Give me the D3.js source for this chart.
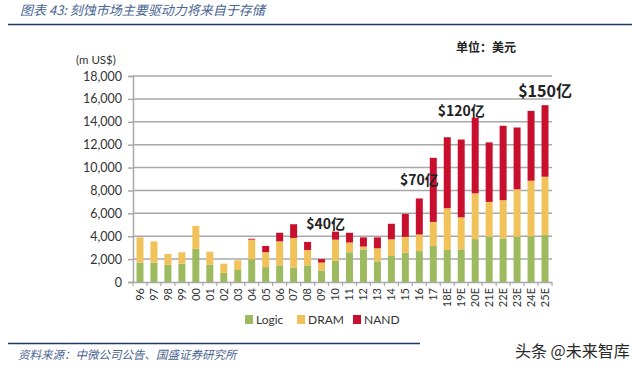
<!DOCTYPE html>
<html>
<head>
<meta charset="utf-8">
<script src="https://cdn.jsdelivr.net/npm/d3@7"></script>
<style>
	body { margin: 0; background: #fff; }
	svg { display: block; font-family: Lato, "Noto Sans", sans-serif; }
	.cjk { font-family: "Noto Sans CJK SC", sans-serif; }
</style>
</head>
<body>
<div id="chart"></div>
<script>
const years = ['96', '97', '98', '99', '00', '01', '02', '03', '04', '05', '06', '07', '08', '09', '10',
	'11', '12', '13', '14', '15', '16', '17', '18E', '19E', '20E', '21E', '22E', '23E', '24E', '25E'];
const logic = [1700, 1700, 1500, 1600, 2900, 1500, 800, 1050, 2000, 1300, 1450, 1250, 1450, 1000, 1850,
	2600, 2850, 1800, 2270, 2550, 2700, 3150, 2800, 2850, 3750, 3950, 3800, 3950, 4000, 4100];
const dram = [2200, 1850, 950, 1000, 2000, 1150, 800, 850, 1700, 1300, 2100, 2600, 1350, 700, 1850,
	850, 250, 1150, 1460, 1400, 1450, 2100, 3650, 2800, 4000, 3050, 3350, 4150, 4850, 5100];
const nand = [0, 0, 0, 0, 0, 0, 0, 0, 80, 550, 750, 1200, 700, 300, 700,
	850, 800, 950, 1360, 2000, 3150, 5600, 6200, 6800, 6600, 5200, 6500, 5400, 6100, 6250];
const yTicks = [0, 2000, 4000, 6000, 8000, 10000, 12000, 14000, 16000, 18000];
const seriesNames = ['Logic', 'DRAM', 'NAND'];
const callouts = [
	{label: '$40亿', at: '09', value: 4600},
	{label: '$70亿', at: '16', value: 8450},
	{label: '$120亿', at: '19E', value: 14500},
	{label: '$150亿', at: '25E', value: 16150}
];

const width = 640, height = 370;
const colors = {Logic: '#9dbb5e', DRAM: '#f1c25a', NAND: '#c8102e'};

const rows = years.map((y, i) => ({year: y, Logic: logic[i], DRAM: dram[i], NAND: nand[i]}));
const stacked = d3.stack().keys(seriesNames)(rows);

const svg = d3.select('#chart').append('svg')
	.attr('width', width)
	.attr('height', height);

const x = d3.scaleBand()
	.domain(years)
	.range([133, 552])
	.paddingInner(0.5)
	.paddingOuter(0.25);

const y = d3.scaleLinear()
	.domain([0, 18000])
	.range([282, 76]);

// header
svg.append('text')
	.attr('class', 'cjk')
	.attr('x', 20)
	.attr('y', 15)
	.attr('font-size', 13)
	.attr('font-style', 'italic')
	.attr('fill', '#4a6591')
	.text('图表 43:  刻蚀市场主要驱动力将来自于存储');

svg.append('line')
	.attr('x1', 8).attr('x2', 632)
	.attr('y1', 24.5).attr('y2', 24.5)
	.attr('stroke', '#1f3a68')
	.attr('stroke-width', 1.5);

svg.append('text')
	.attr('class', 'cjk')
	.attr('x', 456)
	.attr('y', 52)
	.attr('font-size', 12)
	.attr('font-weight', 'bold')
	.attr('fill', '#222')
	.text('单位：美元');

svg.append('text')
	.attr('x', 76)
	.attr('y', 64)
	.attr('font-size', 11.5)
	.attr('fill', '#333')
	.text('(m US$)');

// grid + y axis
svg.append('g')
	.selectAll('line')
	.data(yTicks.slice(1))
	.enter()
	.append('line')
		.attr('x1', 133).attr('x2', 552)
		.attr('y1', d => y(d)).attr('y2', d => y(d))
		.attr('stroke', '#a8a8a8')
		.attr('stroke-width', 1.5);

const yAxis = svg.append('g')
	.attr('transform', 'translate(133, 0)')
	.call(d3.axisLeft(y).tickValues(yTicks).tickSize(5).tickPadding(6).tickFormat(d3.format(',')));
yAxis.select('.domain').attr('stroke', '#a8a8a8').attr('stroke-width', 1.5);
yAxis.selectAll('.tick line').attr('stroke', '#a8a8a8').attr('stroke-width', 1.5);
yAxis.selectAll('.tick text')
	.attr('font-size', 12.5)
	.attr('fill', '#333')
	.attr('font-family', 'Lato, sans-serif');

// bars
svg.append('g')
	.selectAll('g')
	.data(stacked)
	.enter()
	.append('g')
		.attr('fill', d => colors[d.key])
	.selectAll('rect')
	.data(d => d)
	.enter()
	.append('rect')
		.attr('x', d => x(d.data.year))
		.attr('width', x.bandwidth())
		.attr('y', d => y(d[1]))
		.attr('height', d => y(d[0]) - y(d[1]));

// x axis
const xAxis = svg.append('g')
	.attr('transform', 'translate(0, 282)')
	.call(d3.axisBottom(x).tickSize(0).tickPadding(0));
xAxis.select('.domain').attr('stroke', '#a8a8a8').attr('stroke-width', 1.5);
xAxis.selectAll('.tick text')
	.attr('font-size', 11)
	.attr('fill', '#333')
	.attr('font-family', 'Lato, sans-serif')
	.attr('text-anchor', 'end')
	.attr('dy', '0.35em')
	.attr('transform', 'translate(0, 6) rotate(-90)');

const step = x.step();
xAxis.append('g')
	.selectAll('line')
	.data(d3.range(years.length + 1))
	.enter()
	.append('line')
		.attr('x1', i => x(years[0]) - step * 0.25 + i * step)
		.attr('x2', i => x(years[0]) - step * 0.25 + i * step)
		.attr('y1', 0).attr('y2', 4)
		.attr('stroke', '#a8a8a8')
		.attr('stroke-width', 1.2);

// callouts
svg.append('g')
	.selectAll('text')
	.data(callouts)
	.enter()
	.append('text')
		.attr('class', 'cjk')
		.attr('x', d => x(d.at) + x.bandwidth() / 2 + (d.at === '09' ? 4 : 0))
		.attr('y', d => y(d.value))
		.attr('text-anchor', 'middle')
		.attr('font-size', d => d.label === '$150亿' ? 16 : 14)
		.attr('font-weight', 'bold')
		.attr('fill', '#222')
		.text(d => d.label);

// legend
const legend = svg.append('g')
	.selectAll('g')
	.data(seriesNames)
	.enter()
	.append('g')
		.attr('transform', (d, i) => `translate(${[245, 297, 353][i]}, 315)`);
legend.append('rect')
	.attr('width', 8).attr('height', 9)
	.attr('fill', d => colors[d]);
legend.append('text')
	.attr('x', 11)
	.attr('y', 9)
	.attr('font-size', 12)
	.attr('fill', '#333')
	.text(d => d);

// footer
svg.append('line')
	.attr('x1', 8).attr('x2', 420)
	.attr('y1', 343.5).attr('y2', 343.5)
	.attr('stroke', '#1f3a68')
	.attr('stroke-width', 1.5);

svg.append('text')
	.attr('class', 'cjk')
	.attr('x', 18)
	.attr('y', 359)
	.attr('font-size', 11.5)
	.attr('font-style', 'italic')
	.attr('fill', '#4a6591')
	.text('资料来源：中微公司公告、国盛证券研究所');

svg.append('text')
	.attr('class', 'cjk')
	.attr('x', 515)
	.attr('y', 357)
	.attr('font-size', 16)
	.attr('fill', '#2a2a2a')
	.text('头条 @未来智库');
</script>
</body>
</html>
